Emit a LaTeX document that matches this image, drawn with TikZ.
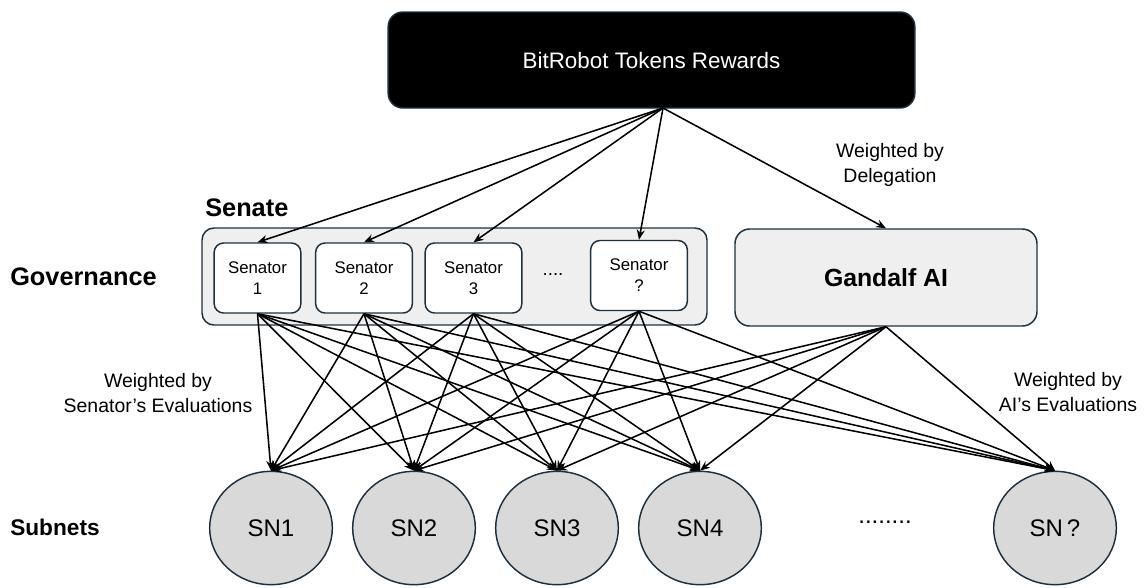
\documentclass[tikz,border=0pt]{standalone}
\usepackage{fontspec}
\setmainfont{Liberation Sans}
\usetikzlibrary{positioning, arrows.meta, shapes.geometric}
\definecolor{navy}{HTML}{1E3040}
\definecolor{boxgray}{HTML}{EFEFEF}
\definecolor{sngray}{HTML}{D9D9D9}
\tikzstyle{sen} = [rectangle, rounded corners=7pt, draw=navy, line width=1.1pt, fill=white, minimum width=72.5pt, minimum height=52.5pt, align=center, font=\fontsize{12.6}{15.8}\selectfont]
\tikzstyle{sn} = [ellipse, draw=navy, line width=1.1pt, fill=sngray, minimum width=92pt, minimum height=85pt, font=\fontsize{18}{21}\selectfont]
\tikzstyle{lbl} = [align=center, font=\fontsize{14.6}{18.8}\selectfont]
\tikzstyle{hd} = [anchor=west, inner sep=0pt, font=\bfseries\fontsize{19}{22}\selectfont]
\tikzstyle{arr} = [-{Stealth[length=7.5pt, width=6pt]}, line width=1.15pt, black]

\begin{document}
\begin{tikzpicture}[x=0.75pt, y=-0.75pt]
    \useasboundingbox (0,0) rectangle (1145,587);

    \node[rectangle, rounded corners=11pt, draw=navy, line width=1.1pt, fill=black,
          minimum width=395pt, minimum height=72pt, text=white,
          font=\fontsize{16.8}{20}\selectfont] (TB) at (651.5,60) {BitRobot Tokens Rewards};
    \coordinate (src) at (663,108);

    % Senate and its senators
    \node[rectangle, rounded corners=9pt, draw=navy, line width=1.1pt, fill=boxgray,
          minimum width=378.75pt, minimum height=72.75pt] (senate) at (454.5,276.5) {};
    \node[hd] (senlbl) at (205,208) {Senate};
    \node[sen, minimum width=65pt] (S1) at (257.5,278) {Senator\\1};
    \node[sen] (S2) at (364,278) {Senator\\2};
    \node[sen] (S3) at (473.5,278) {Senator\\3};
    \node[font=\fontsize{14}{16}\selectfont] (sdots) at (553,274) {....};
    \node[sen] (Sq) at (639,275.5) {Senator\\?};

    \node[rectangle, rounded corners=11pt, draw=navy, line width=1.1pt, fill=boxgray,
          minimum width=226.5pt, minimum height=72.75pt,
          font=\bfseries\fontsize{18.6}{21}\selectfont] (G) at (886,277.5) {Gandalf AI};

    \node[hd] (gov) at (10,277) {Governance};
    \node[hd, font=\bfseries\fontsize{17}{20}\selectfont] (sub) at (10,527) {Subnets};

    % Subnets
    \node[sn] (SN1) at (271,528) {SN1};
    \node[sn] (SN2) at (414,528) {SN2};
    \node[sn] (SN3) at (557,528) {SN3};
    \node[sn] (SN4) at (700,528) {SN4};
    \node[font=\fontsize{18}{20}\selectfont] (sndots) at (885,522) {........};
    \node[sn] (SNq) at (1055,528) {SN\,?};

    \node[lbl] (wdel) at (890,165) {Weighted by\\Delegation};
    \node[lbl] (wsen) at (158,393) {Weighted by\\Senator’s Evaluations};
    \node[lbl] (wai) at (1068,392) {Weighted by\\AI’s Evaluations};

    % Define edges
    \path[arr]
        (src) edge (S1.north) edge (S2.north) edge (S3.north) edge (Sq.north) edge (G.north);
    \path[arr]
        (S1.south) edge (SN1.north) edge (SN2.north) edge (SN3.north) edge (SN4.north) edge (SNq.north)
        (S2.south) edge (SN1.north) edge (SN2.north) edge (SN3.north) edge (SN4.north) edge (SNq.north)
        (S3.south) edge (SN1.north) edge (SN2.north) edge (SN3.north) edge (SN4.north) edge (SNq.north)
        (Sq.south) edge (SN1.north) edge (SN2.north) edge (SN3.north) edge (SN4.north) edge (SNq.north)
        (G.south) edge (SN1.north) edge (SN2.north) edge (SN3.north) edge (SN4.north) edge (SNq.north);

\end{tikzpicture}
\end{document}
